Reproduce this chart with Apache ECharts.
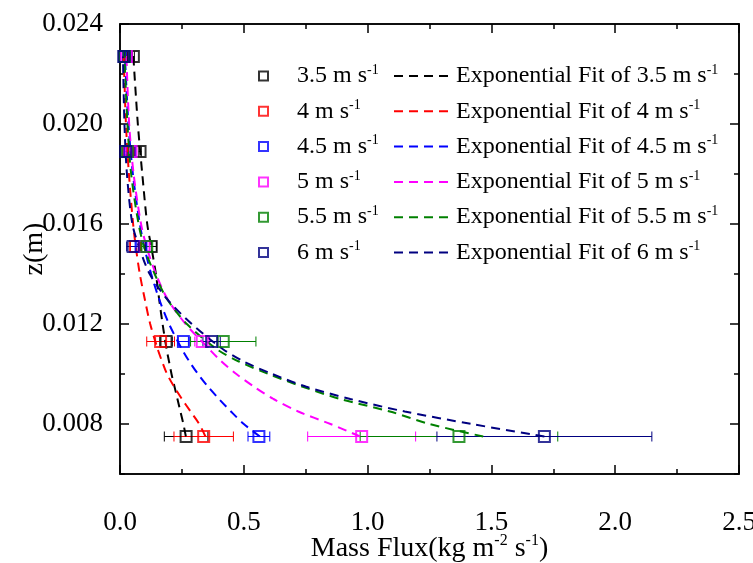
<!DOCTYPE html>
<html><head><meta charset="utf-8">
<script src="https://cdn.jsdelivr.net/npm/echarts@6/dist/echarts.min.js"></script>
<style>html,body{margin:0;padding:0;background:#fff}#c{width:753px;height:563px}</style>
</head><body><div id="c"></div>
<script>
// ---- data ----
const speeds = ['3.5', '4', '4.5', '5', '5.5', '6'];
const colors = ['#000000', '#FF0000', '#0000FF', '#FF00FF', '#008000', '#000080'];
const zLevels = [0.0075, 0.0113, 0.0151, 0.0189, 0.0227];

const flux35 = [0.267, 0.186, 0.126, 0.081, 0.054];
const flux40 = [0.338, 0.164, 0.062, 0.035, 0.020];
const flux45 = [0.561, 0.256, 0.085, 0.040, 0.022];
const flux50 = [0.976, 0.332, 0.098, 0.045, 0.026];
const flux55 = [1.369, 0.417, 0.108, 0.030, 0.018];
const flux60 = [1.714, 0.370, 0.053, 0.023, 0.015];

const err35 = [0.088, 0.025, 0.022, 0.005, 0.004];
const err40 = [0.120, 0.056, 0.020, 0.005, 0.004];
const err45 = [0.044, 0.022, 0.020, 0.005, 0.004];
const err50 = [0.218, 0.030, 0.020, 0.006, 0.004];
const err55 = [0.399, 0.132, 0.020, 0.005, 0.004];
const err60 = [0.434, 0.035, 0.026, 0.005, 0.004];

const fitZ = [0.0075, 0.008, 0.0085, 0.009, 0.0095, 0.010, 0.0105, 0.011, 0.012, 0.013, 0.014, 0.015, 0.016, 0.018, 0.020, 0.0227];
const fit35 = [0.266, 0.256, 0.244, 0.232, 0.220, 0.208, 0.198, 0.188, 0.172, 0.158, 0.145, 0.128, 0.110, 0.090, 0.072, 0.054];
const fit40 = [0.345, 0.320, 0.285, 0.250, 0.218, 0.190, 0.170, 0.152, 0.122, 0.100, 0.080, 0.065, 0.053, 0.036, 0.024, 0.015];
const fit45 = [0.565, 0.500, 0.448, 0.400, 0.355, 0.315, 0.280, 0.250, 0.198, 0.158, 0.126, 0.100, 0.080, 0.052, 0.034, 0.020];
const fit50 = [0.970, 0.850, 0.720, 0.620, 0.540, 0.470, 0.410, 0.360, 0.265, 0.192, 0.145, 0.110, 0.085, 0.055, 0.037, 0.026];
const fit55 = [1.467, 1.250, 1.090, 0.890, 0.735, 0.600, 0.480, 0.390, 0.270, 0.190, 0.140, 0.100, 0.075, 0.045, 0.030, 0.018];
const fit60 = [1.714, 1.420, 1.150, 0.930, 0.750, 0.615, 0.500, 0.415, 0.290, 0.190, 0.120, 0.080, 0.050, 0.028, 0.018, 0.012];

const xMin = 0, xMax = 2.5, xInterval = 0.5;
const yMin = 0.006, yMax = 0.024;
const yMajorTicks = [0.008, 0.012, 0.016, 0.020, 0.024];
const yMinorTicks = [0.006, 0.010, 0.014, 0.018, 0.022];

const fluxes = [flux35, flux40, flux45, flux50, flux55, flux60];
const errs = [err35, err40, err45, err50, err55, err60];
const fits = [fit35, fit40, fit45, fit50, fit55, fit60];

// ---- chart ----
const FONT = '"Liberation Serif", "Times New Roman", serif';
const supRich = { sup: { fontSize: 14, verticalAlign: 'top', lineHeight: 14, fontFamily: FONT, color: '#000' } };
const fmtSup = s => s.replace(/s-1/g, 's{sup|-1}').replace(/m-2/g, 'm{sup|-2}');

const scatterNames = speeds.map(s => s + ' m s-1');
const fitNames = speeds.map(s => 'Exponential Fit of ' + s + ' m s-1');

const series = [];
speeds.forEach((s, i) => {
  const c = colors[i];
  series.push({
    type: 'custom', name: 'err' + s, xAxisIndex: 0, yAxisIndex: 0, z: 2,
    encode: { x: 0, y: 1 },
    data: zLevels.map((z, k) => [fluxes[i][k], z, fluxes[i][k] - errs[i][k], fluxes[i][k] + errs[i][k]]),
    renderItem: function (params, api) {
      const z = api.value(1);
      const p1 = api.coord([api.value(2), z]);
      const p2 = api.coord([api.value(3), z]);
      const h = 5;
      const st = { stroke: c, lineWidth: 1 };
      return { type: 'group', children: [
        { type: 'line', shape: { x1: p1[0], y1: p1[1], x2: p2[0], y2: p2[1] }, style: st },
        { type: 'line', shape: { x1: p1[0], y1: p1[1] - h, x2: p1[0], y2: p1[1] + h }, style: st },
        { type: 'line', shape: { x1: p2[0], y1: p2[1] - h, x2: p2[0], y2: p2[1] + h }, style: st }
      ] };
    }
  });
});
speeds.forEach((s, i) => {
  const c = colors[i];
  series.push({
    type: 'line', name: fitNames[i], xAxisIndex: 0, yAxisIndex: 0, z: 3,
    data: fitZ.map((z, k) => [fits[i][k], z]),
    smooth: 0.3, symbol: 'none', showSymbol: false,
    lineStyle: { color: c, width: 2, type: [9, 6] },
    itemStyle: { color: c }
  });
});
speeds.forEach((s, i) => {
  const c = colors[i];
  series.push({
    type: 'scatter', name: scatterNames[i], xAxisIndex: 0, yAxisIndex: 0, z: 4,
    data: zLevels.map((z, k) => [fluxes[i][k], z]),
    symbol: 'rect', symbolSize: 11, clip: false,
    itemStyle: { color: 'rgba(255,255,255,0)', borderColor: c, borderWidth: 2 }
  });
});
// empty series so the frame axes (top / right / minor-tick axes) are drawn
[[1, 1], [2, 2], [2, 3]].forEach(([xi, yi]) => {
  series.push({ type: 'scatter', name: 'frame' + yi, xAxisIndex: xi, yAxisIndex: yi, data: [], silent: true });
});

const axLine = () => ({ show: true, onZero: false, lineStyle: { color: '#000', width: 1.5 } });
const noLine = () => ({ show: false, onZero: false });
const tickStyle = () => ({ color: '#000', width: 1.5 });
const gridBox = () => ({ left: 120, right: 14, top: 24, bottom: 89, containLabel: false, outerBoundsMode: 'none' });

const option = {
  animation: false,
  backgroundColor: '#fff',
  grid: [
    Object.assign(gridBox(), { show: true, borderColor: '#000', borderWidth: 1.5, backgroundColor: 'transparent' }),
    gridBox()
  ],
  xAxis: [
    {
      gridIndex: 0, type: 'value', min: xMin, max: xMax, interval: xInterval, position: 'bottom', show: true,
      axisLine: axLine(),
      axisTick: { show: true, inside: true, length: 9, lineStyle: tickStyle() },
      minorTick: { show: true, splitNumber: 2, length: 5, lineStyle: tickStyle() },
      splitLine: { show: false }, minorSplitLine: { show: false },
      axisLabel: { show: true, formatter: v => v.toFixed(1), fontSize: 27, color: '#000', fontFamily: FONT, margin: 35 },
      name: fmtSup('Mass Flux(kg m-2 s-1)'), nameLocation: 'middle', nameGap: 59, nameMoveOverlap: false,
      nameTextStyle: { fontSize: 28, color: '#000', fontFamily: FONT, lineHeight: 31,
        rich: { sup: { fontSize: 16, verticalAlign: 'top', lineHeight: 16, fontFamily: FONT, color: '#000' } } }
    },
    {
      gridIndex: 0, type: 'value', min: xMin, max: xMax, interval: xInterval, position: 'top', show: true,
      axisLine: axLine(),
      axisTick: { show: true, inside: true, length: 9, lineStyle: tickStyle() },
      minorTick: { show: true, splitNumber: 2, length: 5, lineStyle: tickStyle() },
      splitLine: { show: false }, axisLabel: { show: false }
    },
    {
      gridIndex: 1, type: 'value', min: xMin, max: xMax, position: 'bottom', show: true,
      axisLine: noLine(), axisTick: { show: false }, axisLabel: { show: false }, splitLine: { show: false }
    }
  ],
  yAxis: [
    {
      gridIndex: 0, type: 'value', min: yMin, max: yMax, position: 'left', show: true,
      axisLine: axLine(),
      axisTick: { show: true, inside: true, length: 9, lineStyle: tickStyle(), customValues: yMajorTicks },
      axisLabel: { show: true, customValues: yMajorTicks, formatter: v => v.toFixed(3), fontSize: 27, color: '#000', fontFamily: FONT, margin: 17 },
      splitLine: { show: false },
      name: 'z(m)', nameLocation: 'middle', nameGap: 71, nameMoveOverlap: false,
      nameTextStyle: { fontSize: 28, color: '#000', fontFamily: FONT }
    },
    {
      gridIndex: 0, type: 'value', min: yMin, max: yMax, position: 'right', show: true,
      axisLine: axLine(),
      axisTick: { show: true, inside: true, length: 9, lineStyle: tickStyle(), customValues: yMajorTicks },
      axisLabel: { show: false }, splitLine: { show: false }
    },
    {
      gridIndex: 1, type: 'value', min: yMin, max: yMax, position: 'left', show: true,
      axisLine: noLine(),
      axisTick: { show: true, inside: true, length: 5, lineStyle: tickStyle(), customValues: yMinorTicks },
      axisLabel: { show: false }, splitLine: { show: false }
    },
    {
      gridIndex: 1, type: 'value', min: yMin, max: yMax, position: 'right', show: true,
      axisLine: noLine(),
      axisTick: { show: true, inside: true, length: 5, lineStyle: tickStyle(), customValues: yMinorTicks },
      axisLabel: { show: false }, splitLine: { show: false }
    }
  ],
  legend: [
    {
      data: scatterNames, orient: 'vertical', left: 258, top: 63, padding: 0,
      itemWidth: 9, itemHeight: 9, itemGap: 9.3,
      formatter: fmtSup,
      textStyle: { fontSize: 24, lineHeight: 26, color: '#000', fontFamily: FONT, padding: [0, 0, 0, 24], rich: supRich },
      selectedMode: false
    },
    {
      data: fitNames, orient: 'vertical', left: 393, top: 63, padding: 0,
      itemWidth: 55, itemHeight: 12, itemGap: 9.3,
      itemStyle: { opacity: 0 },
      formatter: fmtSup,
      textStyle: { fontSize: 24, lineHeight: 26, color: '#000', fontFamily: FONT, padding: [0, 0, 0, 2], rich: supRich },
      selectedMode: false
    }
  ],
  series: series
};

const chart = echarts.init(document.getElementById('c'), null, { renderer: 'canvas' });
chart.setOption(option);
</script>
</body></html>
